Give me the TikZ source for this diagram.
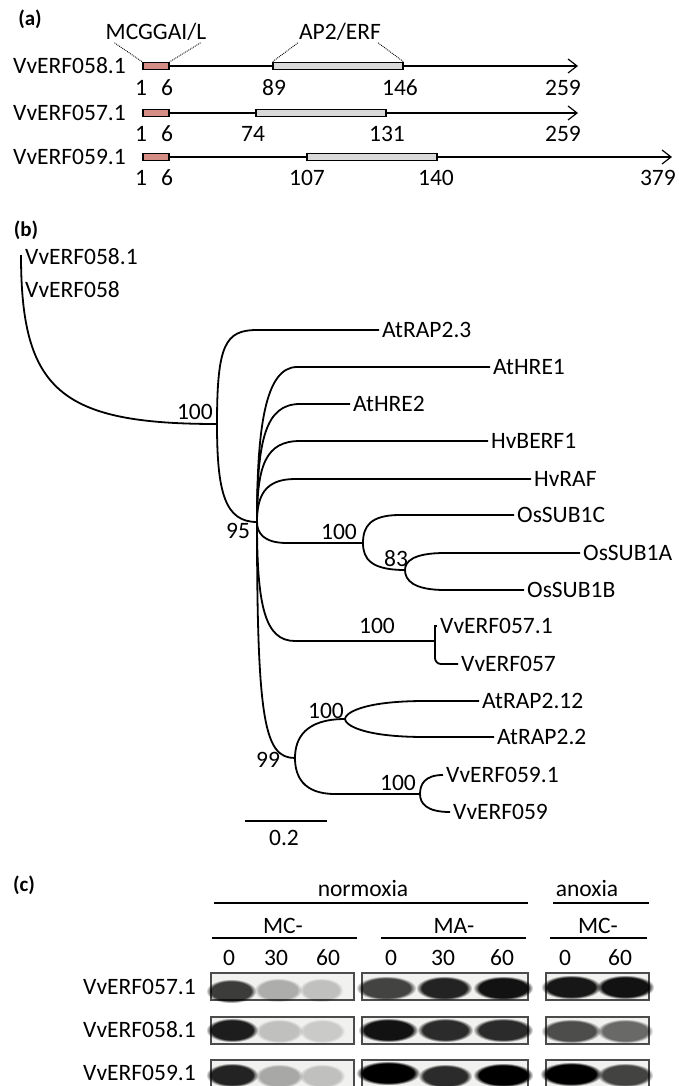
\documentclass[tikz,border=0pt]{standalone}
\usepackage{fontspec}
\setmainfont{Carlito}
\usetikzlibrary{positioning,arrows.meta,calc,fadings}

\definecolor{motifrouge}{RGB}{212,142,134}
\definecolor{ap2gris}{RGB}{217,217,217}
\definecolor{fondgel}{RGB}{241,241,239}
\definecolor{bordgel}{RGB}{75,75,75}

% branche courbe : parent, cible, largeur du coude, fraction verticale
\newcommand{\branche}[4]{%
  \draw[arbre] (#1) .. controls ($(#1)!#4!(#1 |- #2)$) and ($(#1 |- #2)+(0.2*#3,0)$)
    .. ($(#1 |- #2)+(#3,0)$) -- (#2);}

\begin{document}
\begin{tikzpicture}[x=1pt, y=-1pt,
  txt/.style={font=\fontsize{23.5}{28}\selectfont, inner sep=2pt},
  lettre/.style={font=\fontsize{21}{25}\selectfont\bfseries, inner sep=0pt},
  feuille/.style={txt, anchor=west, inner sep=3pt},
  motif/.style={rectangle, draw, line width=1.3pt, minimum height=7pt, inner sep=0pt},
  proteine/.style={line width=1.2pt},
  fleche/.style={line width=1.2pt, -{Straight Barb[length=9pt,width=14pt]}},
  pointille/.style={densely dotted, line width=0.9pt},
  arbre/.style={line width=1.8pt},
  trait/.style={line width=1.8pt},
  gel/.style={draw=bordgel, fill=fondgel, line width=1.4pt}]
  \useasboundingbox (0,0) rectangle (678,1086);

  % (a) domaines
  \node[lettre] (la) at (30,19) {(a)};
  \node[txt] (mcg) at (156,32) {MCGGAI/L};
  \node[txt] (ap2) at (340,32) {AP2/ERF};

  \node[txt, anchor=east] (p58) at (128,66) {VvERF058.1};
  \node[motif, fill=motifrouge, minimum width=26pt] (m58) at (156,66) {};
  \node[motif, fill=ap2gris, minimum width=130pt] (d58) at (338,66) {};
  \coordinate (f58) at (578,66);
  \draw[proteine] (m58) -- (d58);
  \draw[fleche] (d58) -- (f58);
  \node[txt] (a1) at (141,88) {1};
  \node[txt] (a6) at (167,88) {6};
  \node[txt] (a89) at (274,88) {89};
  \node[txt] (a146) at (400,88) {146};
  \node[txt] (a259) at (563,88) {259};

  \draw[pointille] ($(mcg.south west)+(11,0)$) -- (m58.north west);
  \draw[pointille] ($(mcg.south east)+(-8,0)$) -- (m58.north east);
  \draw[pointille] ($(ap2.south west)+(1,0)$) -- (d58.north west);
  \draw[pointille] ($(ap2.south east)+(-5,0)$) -- (d58.north east);

  \node[txt, anchor=east] (p57) at (128,113) {VvERF057.1};
  \node[motif, fill=motifrouge, minimum width=26pt] (m57) at (156,113) {};
  \node[motif, fill=ap2gris, minimum width=130pt] (d57) at (321,113) {};
  \coordinate (f57) at (578,113);
  \draw[proteine] (m57) -- (d57);
  \draw[fleche] (d57) -- (f57);
  \node[txt] (b1) at (141,134) {1};
  \node[txt] (b6) at (167,134) {6};
  \node[txt] (b74) at (253,134) {74};
  \node[txt] (b131) at (387,134) {131};
  \node[txt] (b259) at (563,134) {259};

  \node[txt, anchor=east] (p59) at (128,157) {VvERF059.1};
  \node[motif, fill=motifrouge, minimum width=26pt] (m59) at (156,157) {};
  \node[motif, fill=ap2gris, minimum width=130pt] (d59) at (372,157) {};
  \coordinate (f59) at (672,157);
  \draw[proteine] (m59) -- (d59);
  \draw[fleche] (d59) -- (f59);
  \node[txt] (c1) at (141,178) {1};
  \node[txt] (c6) at (167,178) {6};
  \node[txt] (c107) at (307,178) {107};
  \node[txt] (c140) at (436,178) {140};
  \node[txt, anchor=east] (c379) at (678,178) {379};

  % (b) arbre
  \node[lettre] (lb) at (26,230) {(b)};
  \coordinate (racine) at (21,255);
  \coordinate (n1) at (217,424);
  \coordinate (n95) at (257,522);
  \coordinate (nsub) at (363,543);
  \coordinate (n83) at (405,570);
  \coordinate (n57) at (435,641);
  \coordinate (n99) at (295,758);
  \coordinate (nrap) at (345,719);
  \coordinate (n59) at (420,794);

  \node[feuille] (v581) at (22,257) {VvERF058.1};
  \node[feuille] (v58) at (22,290) {VvERF058};
  \node[feuille] (rap23) at (379,330) {AtRAP2.3};
  \node[feuille] (hre1) at (490,367) {AtHRE1};
  \node[feuille] (hre2) at (350,404) {AtHRE2};
  \node[feuille] (berf) at (488,441) {HvBERF1};
  \node[feuille] (raf) at (531,479) {HvRAF};
  \node[feuille] (sub1c) at (514,515) {OsSUB1C};
  \node[feuille] (sub1a) at (580,553) {OsSUB1A};
  \node[feuille] (sub1b) at (524,590) {OsSUB1B};
  \node[feuille] (v571) at (437,626) {VvERF057.1};
  \node[feuille] (v57) at (458,664) {VvERF057};
  \node[feuille] (rap212) at (479,701) {AtRAP2.12};
  \node[feuille] (rap22) at (494,737) {AtRAP2.2};
  \node[feuille] (v591) at (443,775) {VvERF059.1};
  \node[feuille] (v59) at (450,812) {VvERF059};

  \branche{racine}{n1}{196}{0.8}
  \branche{n1}{rap23.west}{40}{0.84}
  \branche{n1}{n95}{40}{0.7}
  \branche{n95}{hre1.west}{40}{0.6}
  \branche{n95}{hre2.west}{43}{0.7}
  \branche{n95}{berf.west}{43}{0.7}
  \branche{n95}{raf.west}{38}{0.6}
  \branche{n95}{nsub}{30}{0.5}
  \branche{nsub}{sub1c.west}{37}{0.6}
  \branche{nsub}{n83}{42}{0.6}
  \branche{n83}{sub1a.west}{40}{0.5}
  \branche{n83}{sub1b.west}{40}{0.5}
  \branche{n95}{n57}{38}{0.7}
  \draw[arbre] (n57) |- (v571.west);
  \draw[arbre, rounded corners=6pt] (n57) |- (v57.west);
  \branche{n95}{n99}{38}{0.85}
  \branche{n99}{nrap}{50}{0.5}
  \branche{nrap}{rap212.west}{80}{0.3}
  \branche{nrap}{rap22.west}{80}{0.3}
  \branche{n99}{n59}{40}{0.5}
  \branche{n59}{v591.west}{23}{0.5}
  \branche{n59}{v59.west}{30}{0.5}

  % valeurs de bootstrap
  \node[txt, anchor=east] (bs1) at (215,412) {100};
  \node[txt] (bs95) at (238,531) {95};
  \node[txt] (bssub) at (339,532) {100};
  \node[txt] (bs83) at (396,559) {83};
  \node[txt] (bs57) at (377,626) {100};
  \node[txt] (bs99) at (268,760) {99};
  \node[txt] (bsrap) at (326,711) {100};
  \node[txt] (bs59) at (398,783) {100};

  % echelle
  \coordinate (e0) at (245,821);
  \coordinate (e1) at (327,821);
  \draw[arbre] (e0) -- (e1);
  \node[txt] (echelle) at (284,838) {0.2};

  % (c) western blot
  \node[lettre] (lc) at (24,885) {(c)};
  \node[txt] (norm) at (363,888) {normoxia};
  \node[txt] (anox) at (587,888) {anoxia};
  \draw[trait] (214,903) -- (528,903);
  \draw[trait] (553,903) -- (649,903);
  \node[txt] (mc1) at (283,926) {MC-};
  \node[txt] (ma) at (454,926) {MA-};
  \node[txt] (mc2) at (598,926) {MC-};
  \draw[trait] (212,938) -- (357,938);
  \draw[trait] (381,938) -- (526,938);
  \draw[trait] (550,938) -- (647,938);
  \node[txt] (t1) at (229,958) {0};
  \node[txt] (t2) at (276,958) {30};
  \node[txt] (t3) at (328,958) {60};
  \node[txt] (t4) at (391,958) {0};
  \node[txt] (t5) at (443,958) {30};
  \node[txt] (t6) at (502,958) {60};
  \node[txt] (t7) at (565,958) {0};
  \node[txt] (t8) at (620,958) {60};

  \node[txt, anchor=east] (w57) at (198,987) {VvERF057.1};
  \node[txt, anchor=east] (w58) at (198,1030) {VvERF058.1};
  \node[txt, anchor=east] (w59) at (198,1073) {VvERF059.1};

  \draw[gel] (211,973) rectangle (354,1000);
  \draw[gel] (362,973) rectangle (528,1000);
  \draw[gel] (546,973) rectangle (649,1000);
  \draw[gel] (211,1017) rectangle (354,1044);
  \draw[gel] (362,1017) rectangle (528,1044);
  \draw[gel] (546,1017) rectangle (649,1044);
  \draw[gel] (211,1060) rectangle (354,1092);
  \draw[gel] (362,1060) rectangle (528,1092);
  \draw[gel] (546,1060) rectangle (649,1092);

  \foreach \x/\y/\w/\o in {231/991/20/0.75, 278/990/19/0.28, 321/990/17/0.2,
      386/988/25/0.72, 444/988/23/0.85, 503/988/25/0.92, 571/987/25/0.9, 625/987/24/0.92,
      232/1030/21/0.88, 279/1031/19/0.2, 322/1031/18/0.16, 388/1030/25/0.92,
      445/1030/23/0.82, 503/1030/25/0.82, 571/1031/25/0.68, 625/1031/23/0.56,
      232/1075/21/0.85, 279/1076/19/0.3, 322/1076/18/0.2, 388/1073/27/1,
      445/1076/22/0.82, 503/1075/25/1, 571/1074/26/1, 625/1075/23/0.72}
    \fill[black, opacity=\o, path fading=circle with fuzzy edge 20 percent]
      (\x-\w-5,\y-12) rectangle (\x+\w+5,\y+12);
\end{tikzpicture}
\end{document}
